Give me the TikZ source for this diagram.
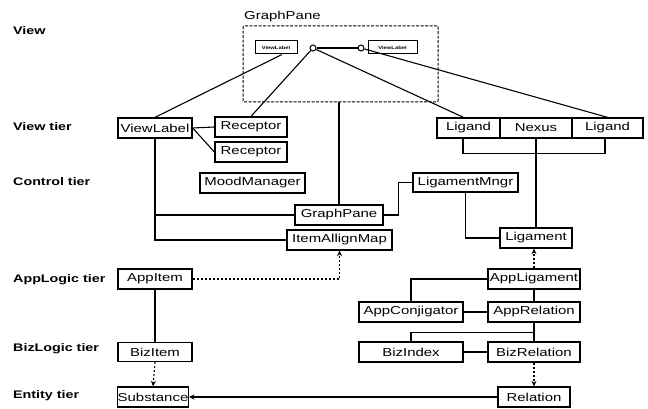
\documentclass[tikz,border=0pt]{standalone}
\usepackage{fontspec}
\setmainfont{Liberation Sans}
\newfontfamily\nf[FakeStretch=1.3]{Liberation Sans}
\usetikzlibrary{arrows.meta,calc}
\begin{document}
\begin{tikzpicture}[x=1pt,y=-1pt,
 box/.style={draw, line width=1.3pt, inner sep=0pt, font=\nf\fontsize{11.5}{13}\selectfont},
 tiny/.style={draw, line width=1pt, inner sep=0pt, minimum height=13pt, font=\nf\bfseries\fontsize{4.5}{5}\selectfont},
 tier/.style={anchor=west, inner sep=0pt, font=\nf\bfseries\fontsize{11}{13}\selectfont},
 conn/.style={line width=1.1pt},
 dconn/.style={line width=1.1pt, dash pattern=on 2pt off 2pt},
 arr/.style={-{Stealth[length=5.5pt,width=5pt]}},
 port/.style={circle, draw, line width=1pt, minimum size=6pt, inner sep=0pt}]
\useasboundingbox (0,0) rectangle (648,409);

% tier labels
\node[tier] (tview) at (13,31) {View};
\node[tier] (tviewtier) at (13,127) {View tier};
\node[tier] (tcontrol) at (13,182) {Control tier};
\node[tier] (tapp) at (13,280) {AppLogic tier};
\node[tier] (tbiz) at (13,349) {BizLogic tier};
\node[tier] (tentity) at (13,396) {Entity tier};

% GraphPane frame
\node[draw, dash pattern=on 3pt off 1.5pt, line width=1pt, minimum width=195pt, minimum height=76pt, inner sep=0pt, rounded corners=1pt] (frame) at (340.5,64) {};
\node[anchor=base west, inner sep=0pt, font=\nf\fontsize{11.5}{13}\selectfont] (gptitle) at (244,20) {GraphPane};
\node[tiny, minimum width=42pt] (sv1) at (276,47.5) {ViewLabel};
\node[tiny, minimum width=49pt] (sv2) at (392.5,47.5) {ViewLabel};
\node[port] (c1) at (313,48) {};
\node[port] (c2) at (361,48) {};

% boxes
\node[box, minimum width=74pt, minimum height=20pt] (viewlabel) at (155,128) {ViewLabel};
\node[box, minimum width=72pt, minimum height=20pt] (rec1) at (251,127) {Receptor};
\node[box, minimum width=72pt, minimum height=20pt] (rec2) at (251,152) {Receptor};
\node[box, minimum width=105pt, minimum height=20pt] (mood) at (252.5,183) {MoodManager};
\node[box, minimum width=88pt, minimum height=20pt] (gpane) at (339,215) {GraphPane};
\node[box, minimum width=105pt, minimum height=20pt] (iam) at (339.5,240) {ItemAllignMap};
\node[box, minimum width=63pt, minimum height=20pt] (lig1) at (468.5,128) {Ligand};
\node[box, minimum width=72pt, minimum height=20pt] (nexus) at (536,128) {Nexus};
\node[box, minimum width=71pt, minimum height=20pt] (lig2) at (607.5,128) {Ligand};
\node[box, minimum width=105pt, minimum height=19pt] (lmngr) at (465.5,182.5) {LigamentMngr};
\node[box, minimum width=72pt, minimum height=20pt] (ligament) at (536,238) {Ligament};
\node[box, minimum width=74pt, minimum height=20pt] (appitem) at (155,279) {AppItem};
\node[box, minimum width=74pt, minimum height=19pt] (bizitem) at (155,352) {BizItem};
\node[box, minimum width=70pt, minimum height=20pt] (subst) at (153,397) {Substance};
\node[box, minimum width=92pt, minimum height=20pt] (appligament) at (534,279) {AppLigament};
\node[box, minimum width=104pt, minimum height=20pt] (appconj) at (411,312) {AppConjigator};
\node[box, minimum width=92pt, minimum height=20pt] (apprel) at (534,312) {AppRelation};
\node[box, minimum width=104pt, minimum height=20pt] (bizindex) at (411,352) {BizIndex};
\node[box, minimum width=92pt, minimum height=20pt] (bizrel) at (534,352) {BizRelation};
\node[box, minimum width=72pt, minimum height=20pt] (relation) at (534,397) {Relation};

% view connectors
\draw[line width=2pt] (c1) -- (c2);
\draw[conn] ([xshift=6pt]sv1.south) -- (viewlabel.north);
\draw[conn] (c1) -- (rec1.north);
\draw[conn] (c1) -- ([xshift=-5pt]lig1.north);
\draw[conn] (c2) -- (lig2.north);
\draw[conn] (frame.south -| gpane.north) -- (gpane.north);

% view tier / control tier
\draw[conn] (viewlabel.east) -- (rec1.west);
\draw[conn] (viewlabel.east) -- (rec2.west);
\draw[conn] (viewlabel.south) |- (iam.west);
\draw[conn] (viewlabel.south |- gpane.west) -- (gpane.west);
\draw[conn] (gpane.east) -- ++(15,0) |- (lmngr.west);
\draw[conn] (lmngr.south) |- (ligament.west);
\draw[conn] ([xshift=-5.5pt]lig1.south) -- ++(0,15) -| ([xshift=-2.5pt]lig2.south);
\draw[conn] (nexus.south) -- (ligament.north);

% app / biz / entity
\draw[dconn, arr] (appitem.east) -| (iam.south);
\draw[conn] (appitem.south) -- (bizitem.north);
\draw[dconn, arr] (bizitem.south) -- (subst.north);
\draw[conn, arr] (relation.west) -- (subst.east);
\draw[dconn, arr] (appligament.north) -- (appligament.north |- ligament.south);
\draw[conn] (appligament.west) -| (appconj.north);
\draw[conn] (appligament.south) -- (apprel.north);
\draw[conn] (appconj.east) -- (apprel.west);
\draw[conn] (apprel.south) -- (bizrel.north);
\draw[conn] (apprel.south) ++(0,10) -| (bizindex.north);
\draw[conn] (bizindex.east) -- (bizrel.west);
\draw[dconn, arr] (bizrel.south) -- (relation.north);
\end{tikzpicture}
\end{document}
